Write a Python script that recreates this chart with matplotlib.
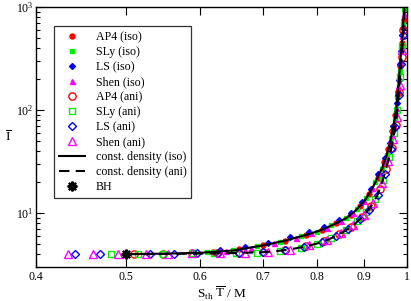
import matplotlib
matplotlib.use('Agg')
import matplotlib.pyplot as plt
from matplotlib.ticker import FixedLocator, NullLocator, FuncFormatter, LogLocator, LogFormatterMathtext

plt.rcParams['font.family'] = ['Liberation Serif', 'DejaVu Serif']
plt.rcParams['mathtext.fontset'] = 'custom'
plt.rcParams['mathtext.rm'] = 'Liberation Serif'
plt.rcParams['mathtext.it'] = 'Liberation Serif:italic'

# ---- data ----
# constant-density curves
cd_iso_x = [0.50, 0.55, 0.60, 0.65, 0.70, 0.74, 0.78, 0.80, 0.82, 0.84, 0.86, 0.88, 0.90, 0.91,
            0.92, 0.93, 0.94, 0.95, 0.96, 0.97, 0.975, 0.98, 0.985, 0.99, 0.993, 0.996]
cd_iso_I = [4.00, 4.04, 4.12, 4.33, 4.85, 5.4, 6.15, 6.6, 7.2, 8.0, 8.9, 10.5, 13.0, 15.2,
            18.0, 22.0, 27.0, 35.0, 50.0, 80.0, 113.0, 190.0, 330.0, 600.0, 950.0, 1600.0]
cd_ani_x = [0.50, 0.55, 0.60, 0.65, 0.70, 0.72, 0.74, 0.76, 0.78, 0.80, 0.82, 0.84, 0.86, 0.88,
            0.90, 0.91, 0.92, 0.93, 0.94, 0.95, 0.96, 0.97, 0.975, 0.98, 0.985, 0.99, 0.993, 0.996]
cd_ani_I = [4.00, 4.01, 4.05, 4.10, 4.17, 4.25, 4.38, 4.55, 4.78, 5.05, 5.45, 6.0, 6.8, 7.9,
            9.6, 10.8, 12.5, 15.0, 19.5, 27.0, 38.0, 62.0, 85.0, 140.0, 250.0, 480.0, 800.0, 1500.0]

# isotropic stars
ap4_iso_x = [0.62, 0.66, 0.70, 0.74, 0.78, 0.81, 0.84, 0.87, 0.89, 0.91, 0.93, 0.945, 0.955,
             0.965, 0.972, 0.978, 0.983, 0.988, 0.992]
ap4_iso_I = [4.22, 4.45, 4.85, 5.4, 6.15, 6.9, 8.0, 9.6, 11.6, 15.2, 22, 31, 42, 63, 90, 150, 270, 450, 750]
sly_iso_x = [0.61, 0.65, 0.69, 0.73, 0.77, 0.80, 0.83, 0.86, 0.885, 0.905, 0.925, 0.94, 0.952,
             0.962, 0.97, 0.977, 0.982, 0.987, 0.991, 0.994]
sly_iso_I = [4.18, 4.38, 4.75, 5.25, 5.95, 6.6, 7.6, 8.9, 11.0, 14.0, 20, 27, 37, 54, 80, 135, 240,
             400, 680, 950]
ls_iso_x = [0.63, 0.67, 0.71, 0.75, 0.785, 0.815, 0.845, 0.87, 0.895, 0.915, 0.932, 0.947, 0.958,
            0.967, 0.975, 0.98, 0.986, 0.99]
ls_iso_I = [4.4, 4.7, 5.15, 5.85, 6.55, 7.3, 8.5, 10.0, 12.8, 17.3, 24, 34, 48, 70, 117, 195, 370, 620]
shen_iso_x = [0.64, 0.68, 0.72, 0.76, 0.79, 0.82, 0.85, 0.875, 0.90, 0.918, 0.935, 0.95, 0.96,
              0.968, 0.974, 0.979, 0.984, 0.989, 0.993]
shen_iso_I = [4.3, 4.6, 5.1, 5.75, 6.35, 7.2, 8.4, 10.0, 13.0, 17.5, 24, 35, 50, 70, 105, 170, 300,
              520, 850]

# anisotropic stars
ap4_ani_x = [0.509, 0.547, 0.588, 0.625, 0.66, 0.70, 0.74, 0.78, 0.815, 0.845, 0.87, 0.895, 0.915,
             0.935, 0.95, 0.963, 0.973, 0.981, 0.987, 0.991]
ap4_ani_I = [4.03, 4.04, 4.06, 4.08, 4.11, 4.17, 4.38, 4.78, 5.35, 6.2, 7.3, 9.2, 11.7, 17, 27, 43,
             72, 150, 330, 600]
sly_ani_x = [0.481, 0.514, 0.547, 0.59, 0.621, 0.655, 0.69, 0.73, 0.77, 0.80, 0.83, 0.86, 0.885,
             0.905, 0.925, 0.943, 0.957, 0.968, 0.977, 0.984, 0.989]
sly_ani_I = [4.02, 4.03, 4.04, 4.06, 4.08, 4.10, 4.14, 4.27, 4.62, 5.05, 5.7, 6.8, 8.4, 10.3, 13.7,
             21, 35, 60, 100, 210, 420]
ls_ani_x = [0.44, 0.468, 0.53, 0.562, 0.596, 0.627, 0.66, 0.70, 0.74, 0.775, 0.81, 0.84, 0.865,
            0.89, 0.91, 0.93, 0.948, 0.962, 0.972, 0.98, 0.986, 0.991]
ls_ani_I = [4.0, 4.0, 4.03, 4.04, 4.06, 4.08, 4.12, 4.17, 4.38, 4.65, 5.2, 6.0, 7.0, 8.7, 10.8, 15,
            24, 42, 68, 140, 280, 540]
shen_ani_x = [0.433, 0.46, 0.49, 0.525, 0.554, 0.588, 0.63, 0.67, 0.71, 0.75, 0.785, 0.82, 0.85,
              0.875, 0.90, 0.92, 0.94, 0.955, 0.966, 0.975, 0.982, 0.988]
shen_ani_I = [4.0, 4.0, 4.02, 4.03, 4.04, 4.06, 4.08, 4.11, 4.18, 4.42, 4.85, 5.45, 6.35, 7.6, 9.6,
              12.5, 19.5, 32, 52, 85, 175, 380]

bh_x = [0.5]
bh_I = [4.0]

x_ticks = [0.4, 0.5, 0.6, 0.7, 0.8, 0.9, 1.0]

fig = plt.figure(figsize=(4.11, 3.01), dpi=100)
ax = fig.add_axes([0.0876, 0.113, 0.9024, 0.864])

ms_f = 3.6   # filled markers
ms_o = 5.2   # open markers

ax.plot(ap4_iso_x, ap4_iso_I, 'o', color='red', ms=ms_f, mec='red', label='AP4 (iso)', zorder=2)
ax.plot(sly_iso_x, sly_iso_I, 's', color='#00ee00', ms=ms_f - 0.3, mec='#00ee00', label='SLy (iso)', zorder=2)
ax.plot(ls_iso_x, ls_iso_I, 'D', color='blue', ms=ms_f - 0.6, mec='blue', label='LS (iso)', zorder=2)
ax.plot(shen_iso_x, shen_iso_I, '^', color='magenta', ms=ms_f, mec='magenta', label='Shen (iso)', zorder=2)

ax.plot(ap4_ani_x, ap4_ani_I, 'o', mfc='none', mec='red', ms=ms_o, mew=1.0, label='AP4 (ani)', zorder=2)
ax.plot(sly_ani_x, sly_ani_I, 's', mfc='none', mec='#00ee00', ms=ms_o - 0.4, mew=1.0, label='SLy (ani)', zorder=2)
ax.plot(ls_ani_x, ls_ani_I, 'D', mfc='none', mec='blue', ms=ms_o - 0.8, mew=1.0, label='LS (ani)', zorder=2)
ax.plot(shen_ani_x, shen_ani_I, '^', mfc='none', mec='magenta', ms=ms_o, mew=1.0, label='Shen (ani)', zorder=2)

ax.plot(cd_iso_x, cd_iso_I, '-', color='black', lw=1.5, label='const. density (iso)', zorder=3)
ax.plot(cd_ani_x, cd_ani_I, color='black', lw=1.5, ls=(0, (5, 3)), label='const. density (ani)', zorder=3)

ax.plot(bh_x, bh_I, ls='none', marker=(8, 2, 0), color='black', ms=7, mew=1.6, label='BH', zorder=4)

ax.set_xscale('log')
ax.set_yscale('log')
ax.set_xlim(0.4, 1.0)
ax.set_ylim(3.0, 1000)

ax.xaxis.set_major_locator(FixedLocator(x_ticks))
ax.xaxis.set_minor_locator(NullLocator())
ax.xaxis.set_major_formatter(FuncFormatter(lambda v, _: f'{v:g}'))
ax.yaxis.set_major_locator(LogLocator(base=10))
ax.yaxis.set_minor_locator(LogLocator(base=10, subs=range(2, 10)))
ax.yaxis.set_major_formatter(LogFormatterMathtext())

ax.tick_params(which='both', direction='in', top=True, right=True, labelsize=8.5, width=0.8)
ax.tick_params(which='major', length=6)
ax.tick_params(axis='x', which='major', pad=3)
ax.tick_params(axis='y', which='major', pad=2)
ax.tick_params(which='minor', length=3)
for s in ax.spines.values():
    s.set_linewidth(1.0)

ax.set_xlabel(r'$\mathrm{S_{th}\ \overline{T}\ /\ M}$', fontsize=9.5, va='top')
ax.xaxis.set_label_coords(0.5, -0.068)
ax.set_ylabel(r'$\overline{\mathrm{I}}$', fontsize=9.5, rotation=0, va='center', ha='center')
ax.yaxis.set_label_coords(-0.075, 0.5)

leg = ax.legend(loc='upper left', bbox_to_anchor=(0.048, 0.925), fontsize=8.6, frameon=True,
                fancybox=False, edgecolor='black', handlelength=2.2, handletextpad=0.9,
                labelspacing=0.25, borderpad=0.4, borderaxespad=0)
leg.get_frame().set_linewidth(0.9)

fig.savefig('out.png', dpi=100)
